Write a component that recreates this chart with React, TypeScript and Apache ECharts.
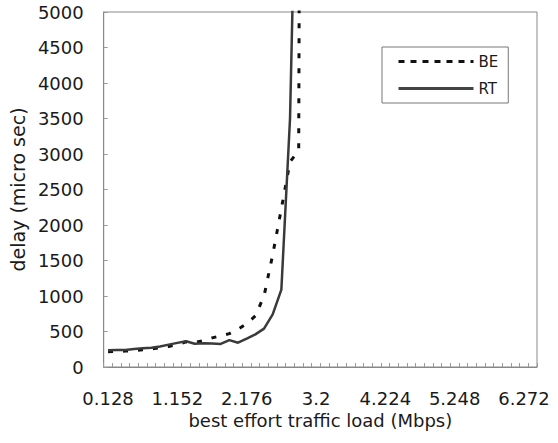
import React, { useEffect, useRef } from "react";
import * as echarts from "echarts";

const categories: string[] = [
  "0.128", "0.256", "0.384", "0.512", "0.64", "0.768", "0.896", "1.024",
  "1.152", "1.28", "1.408", "1.536", "1.664", "1.792", "1.92", "2.048",
  "2.176", "2.304", "2.432", "2.56", "2.688", "2.816", "2.944", "3.072",
  "3.2", "3.328", "3.456", "3.584", "3.712", "3.84", "3.968", "4.096",
  "4.224", "4.352", "4.48", "4.608", "4.736", "4.864", "4.992", "5.12",
  "5.248", "5.376", "5.504", "5.632", "5.76", "5.888", "6.016", "6.144",
  "6.272", "6.4",
];

const beValues: (number | null)[] = [
  215, 220, 224, 232, 242, 255, 272, 290, 315, 355,
  345, 370, 410, 440, 470, 530, 610, 720, 1000, 1580,
  2230, 2890, 3050, 40000,
];

const rtValues: (number | null)[] = [
  235, 238, 240, 252, 263, 272, 290, 315, 340, 362,
  328, 333, 330, 325, 378, 342, 400, 460, 540, 740,
  1090, 3500, 9000,
];

const yTicks = { min: 0, max: 5000, interval: 500 };

const FONT = "'DejaVu Sans', Verdana, sans-serif";
const TEXT = "#1a1a1a";

export default function App() {
  const ref = useRef<HTMLDivElement>(null);
  useEffect(() => {
    if (!ref.current) return;
    const chart = echarts.init(ref.current, undefined, { renderer: "svg" });
    const pad = (arr: (number | null)[]) =>
      categories.map((_, i) => (i < arr.length ? arr[i] : null));
    chart.setOption({
      animation: false,
      backgroundColor: "#fff",
      textStyle: { fontFamily: FONT, color: TEXT },
      grid: {
        left: 103,
        right: 21,
        top: 12,
        bottom: 76,
        show: true,
        borderColor: "#888",
        borderWidth: 1,
        backgroundColor: "transparent",
      },
      legend: {
        orient: "vertical",
        left: 382,
        top: 47,
        padding: [7, 10, 7, 15],
        itemGap: 12,
        itemWidth: 75,
        itemHeight: 12,
        borderColor: "#777",
        borderWidth: 1,
        borderRadius: 0,
        textStyle: { fontSize: 15, color: TEXT, fontFamily: FONT },
        data: [
          {
            name: "BE",
            itemStyle: { opacity: 0 },
            lineStyle: { type: [6, 6], width: 3, color: "#111" },
          },
          {
            name: "RT",
            itemStyle: { opacity: 0 },
            lineStyle: { type: "solid", width: 3, color: "#444" },
          },
        ],
      },
      xAxis: {
        type: "category",
        data: categories,
        boundaryGap: true,
        name: "best effort traffic load (Mbps)",
        nameLocation: "middle",
        nameGap: 43,
        nameTextStyle: { fontSize: 18, color: TEXT, fontFamily: FONT },
        axisLine: { show: true, lineStyle: { color: "#888", width: 1 } },
        axisTick: {
          show: true,
          inside: true,
          length: 4,
          interval: 0,
          lineStyle: { color: "#999" },
        },
        axisLabel: {
          interval: 7,
          margin: 22,
          fontSize: 18,
          color: TEXT,
          fontFamily: FONT,
        },
        splitLine: { show: false },
      },
      yAxis: {
        type: "value",
        min: yTicks.min,
        max: yTicks.max,
        interval: yTicks.interval,
        name: "delay (micro sec)",
        nameLocation: "middle",
        nameGap: 30,
        nameRotate: 90,
        nameTextStyle: { fontSize: 19, color: TEXT, fontFamily: FONT },
        axisLine: { show: true, lineStyle: { color: "#888", width: 1 } },
        axisTick: {
          show: true,
          inside: true,
          length: 4,
          lineStyle: { color: "#999" },
        },
        axisLabel: {
          margin: 20,
          fontSize: 18,
          color: TEXT,
          fontFamily: FONT,
          formatter: (v: number) => String(v),
        },
        splitLine: { show: false },
      },
      series: [
        {
          name: "BE",
          type: "line",
          data: pad(beValues),
          symbol: "none",
          clip: true,
          lineStyle: { color: "#111", width: 3, type: [5, 10] },
          itemStyle: { color: "#111" },
        },
        {
          name: "RT",
          type: "line",
          data: pad(rtValues),
          symbol: "none",
          clip: true,
          lineStyle: { color: "#3a3a3a", width: 2.5 },
          itemStyle: { color: "#3a3a3a" },
        },
      ],
    });
    return () => chart.dispose();
  }, []);
  return (
    <div
      ref={ref}
      style={{ position: "fixed", left: 0, top: 0, width: 558, height: 443 }}
    />
  );
}
